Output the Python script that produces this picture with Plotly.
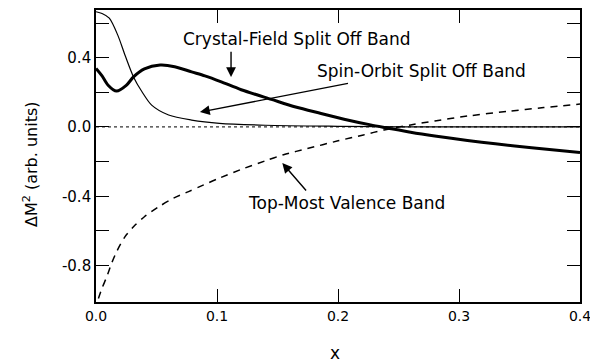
import plotly.graph_objects as go

# Crystal-Field Split Off Band (thick solid)
cf_x = [0.0, 0.005, 0.010, 0.017, 0.025, 0.031, 0.040, 0.053, 0.065, 0.079, 0.090,
        0.103, 0.120, 0.145, 0.165, 0.186, 0.205, 0.227, 0.241, 0.260, 0.280, 0.307,
        0.330, 0.360, 0.400]
cf_y = [0.338, 0.295, 0.241, 0.207, 0.240, 0.289, 0.335, 0.357, 0.348, 0.318, 0.295,
        0.262, 0.215, 0.159, 0.115, 0.078, 0.045, 0.012, -0.006, -0.030, -0.052, -0.078,
        -0.097, -0.120, -0.148]

# Spin-Orbit Split Off Band (thin solid)
so_x = [0.0, 0.005, 0.011, 0.018, 0.024, 0.031, 0.038, 0.046, 0.060, 0.079, 0.102,
        0.140, 0.200, 0.250, 0.400]
so_y = [0.665, 0.655, 0.628, 0.530, 0.414, 0.289, 0.203, 0.126, 0.069, 0.040, 0.021,
        0.010, 0.004, 0.001, 0.0]

# Top-Most Valence Band (dashed)
tm_x = [0.002, 0.005, 0.009, 0.013, 0.017, 0.024, 0.031, 0.040, 0.052, 0.064, 0.0765,
        0.089, 0.103, 0.120, 0.140, 0.155, 0.1745, 0.200, 0.221, 0.238, 0.260, 0.280,
        0.307, 0.340, 0.370, 0.400]
tm_y = [-0.99, -0.93, -0.863, -0.785, -0.72, -0.633, -0.576, -0.518, -0.46, -0.411, -0.373,
        -0.334, -0.292, -0.245, -0.195, -0.160, -0.125, -0.080, -0.046, -0.017, 0.012, 0.035,
        0.063, 0.090, 0.112, 0.132]

zero_x = [0.0, 0.4]
zero_y = [0.0, 0.0]

x_ticks = [0.0, 0.1, 0.2, 0.3, 0.4]
x_ticktext = ["0.0", "0.1", "0.2", "0.3", "0.4"]
y_ticks = [-0.8, -0.6, -0.4, -0.2, 0.0, 0.2, 0.4, 0.6]
y_ticktext = ["-0.8", "", "-0.4", "", "0.0", "", "0.4", ""]

labels = ["Crystal-Field Split Off Band", "Spin-Orbit Split Off Band", "Top-Most Valence Band"]
label_x = [0.166, 0.269, 0.207]
label_y = [0.507, 0.322, -0.439]
arrow_tip_x = [0.1116, 0.0859, 0.154]
arrow_tip_y = [0.288, 0.086, -0.208]
arrow_tail_x = [0.1116, 0.2095, 0.1747]
arrow_tail_y = [0.443, 0.253, -0.375]

FONT = "DejaVu Sans"

fig = go.Figure()
fig.add_trace(go.Scatter(x=zero_x, y=zero_y, mode="lines",
                         line=dict(color="#333", width=1.2, dash="dot"), hoverinfo="skip"))
fig.add_trace(go.Scatter(x=so_x, y=so_y, mode="lines",
                         line=dict(color="black", width=1.2, shape="spline", smoothing=0.8)))
fig.add_trace(go.Scatter(x=tm_x, y=tm_y, mode="lines",
                         line=dict(color="black", width=1.5, dash="7px,6px", shape="spline", smoothing=0.8)))
fig.add_trace(go.Scatter(x=cf_x, y=cf_y, mode="lines",
                         line=dict(color="black", width=3, shape="spline", smoothing=0.8)))

for t, lx, ly in zip(labels, label_x, label_y):
    fig.add_annotation(x=lx, y=ly, xref="x", yref="y", text=t, showarrow=False,
                       font=dict(family=FONT, size=17, color="black"))
for tx, ty, ax, ay in zip(arrow_tip_x, arrow_tip_y, arrow_tail_x, arrow_tail_y):
    fig.add_annotation(x=tx, y=ty, xref="x", yref="y", ax=ax, ay=ay, axref="x", ayref="y",
                       text="", showarrow=True, arrowhead=2, arrowsize=1.4, arrowwidth=1.4,
                       arrowcolor="black", standoff=0)

fig.add_annotation(x=0.5, y=-0.175, xref="paper", yref="paper", text="x", showarrow=False,
                   font=dict(family=FONT, size=17, color="black"), xanchor="center", yanchor="middle",
                   xshift=-3)
fig.add_annotation(x=0, y=0.5, xref="paper", yref="paper", text="ΔM<sup>2</sup> (arb. units)",
                   showarrow=False, textangle=-90, xanchor="center", yanchor="middle", xshift=-66,
                   yshift=-8, font=dict(family=FONT, size=16, color="black"))

axis_common = dict(showline=True, linecolor="black", linewidth=1.6, mirror="ticks",
                   ticks="inside", ticklen=13, tickwidth=1.4, tickcolor="black",
                   showgrid=False, zeroline=False, automargin=False, ticklabeloverflow="allow")
fig.update_xaxes(range=[0, 0.4], tickvals=x_ticks, ticktext=x_ticktext,
                 tickfont=dict(family=FONT, size=14, color="black"), **axis_common)
fig.update_yaxes(range=[-1.01, 0.675], tickvals=y_ticks, ticktext=y_ticktext,
                 tickfont=dict(family=FONT, size=15, color="black"), **axis_common)

fig.update_layout(width=590, height=364, margin=dict(l=96, r=10, t=10, b=62),
                  plot_bgcolor="white", paper_bgcolor="white", showlegend=False)

fig.write_html("out.html")
